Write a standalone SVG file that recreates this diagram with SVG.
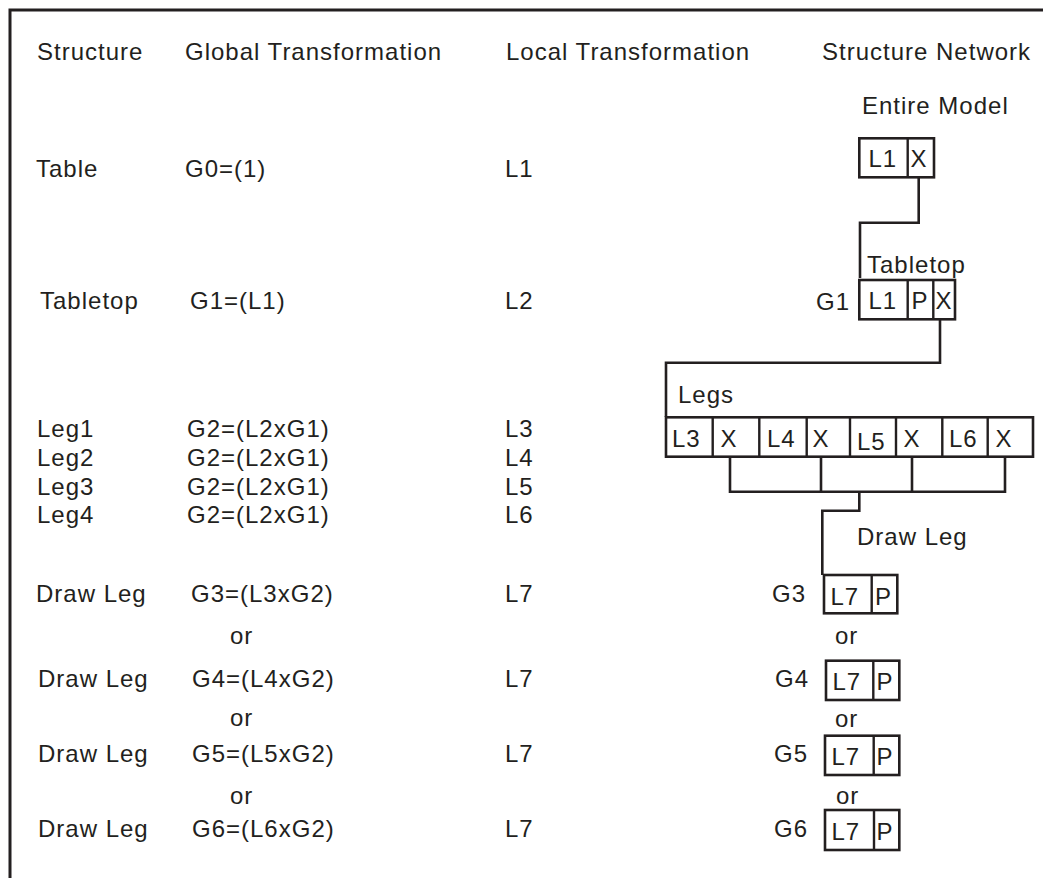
<svg xmlns="http://www.w3.org/2000/svg" width="1043" height="892" viewBox="0 0 1043 892">
<style>
text{font-family:"Liberation Sans",Arial,Helvetica,sans-serif;font-size:24px;fill:#231f20;letter-spacing:1px}
.box{fill:#fff;stroke:#231f20;stroke-width:2.6}
.div{stroke:#231f20;stroke-width:2.4;fill:none}
.con{stroke:#231f20;stroke-width:2.6;fill:none}
.frame{stroke:#231f20;stroke-width:3;fill:none}
</style>
<rect width="1043" height="892" fill="#fff"/>
<path class="frame" d="M1043 10 H10 V878"/>

<g id="header">
<text x="37" y="60">Structure</text>
<text x="185" y="60">Global Transformation</text>
<text x="506" y="60">Local Transformation</text>
<text x="822" y="60">Structure Network</text>
</g>

<g id="row-table">
<text x="36" y="177">Table</text>
<text x="185" y="177">G0=(1)</text>
<text x="505" y="177">L1</text>
</g>
<g id="row-tabletop">
<text x="40" y="309">Tabletop</text>
<text x="190" y="309">G1=(L1)</text>
<text x="505" y="309">L2</text>
</g>
<g id="row-legs">
<text x="37" y="437">Leg1</text>
<text x="37" y="466">Leg2</text>
<text x="37" y="495">Leg3</text>
<text x="37" y="523">Leg4</text>
<text x="187" y="437">G2=(L2xG1)</text>
<text x="187" y="466">G2=(L2xG1)</text>
<text x="187" y="495">G2=(L2xG1)</text>
<text x="187" y="523">G2=(L2xG1)</text>
<text x="505" y="437">L3</text>
<text x="505" y="466">L4</text>
<text x="505" y="495">L5</text>
<text x="505" y="523">L6</text>
</g>
<g id="row-drawleg">
<text x="36" y="602">Draw Leg</text>
<text x="191" y="602">G3=(L3xG2)</text>
<text x="505" y="602">L7</text>
<text x="230" y="644">or</text>
<text x="38" y="687">Draw Leg</text>
<text x="192" y="687">G4=(L4xG2)</text>
<text x="505" y="687">L7</text>
<text x="230" y="726">or</text>
<text x="38" y="762">Draw Leg</text>
<text x="192" y="762">G5=(L5xG2)</text>
<text x="505" y="762">L7</text>
<text x="230" y="804">or</text>
<text x="38" y="837">Draw Leg</text>
<text x="192" y="837">G6=(L6xG2)</text>
<text x="505" y="837">L7</text>
</g>

<g id="connectors">
<path class="con" d="M918.7 177.3 V222.7 H860 V278"/>
<path class="con" d="M940 319.3 V362.7 H666 V417"/>
<path class="con" d="M730 457 V491.7 H1005 V457"/>
<path class="con" d="M821 457 V491.7"/>
<path class="con" d="M912 457 V491.7"/>
<path class="con" d="M859.3 491.7 V510.7 H822.3 V575"/>
</g>

<g id="node-entire-model">
<text x="862" y="114">Entire Model</text>
<rect class="box" x="859.3" y="138.3" width="74.7" height="39"/>
<path class="div" d="M907.7 138.3 V177.3"/>
<text x="868.5" y="166.5">L1</text>
<text x="910.5" y="166.5">X</text>
</g>

<g id="node-tabletop">
<text x="867" y="273">Tabletop</text>
<text x="816" y="310">G1</text>
<rect class="box" x="859.3" y="280" width="95.7" height="39.3"/>
<path class="div" d="M907.7 280 V319.3 M933.3 280 V319.3"/>
<text x="868.5" y="308.5">L1</text>
<text x="911.5" y="308.5">P</text>
<text x="935.5" y="308.5">X</text>
</g>

<g id="node-legs">
<text x="678" y="403">Legs</text>
<rect class="box" x="666" y="417.3" width="367" height="39.4"/>
<path class="div" d="M712.7 417.3 V456.7 M759.3 417.3 V456.7 M806.7 417.3 V456.7 M850 417.3 V456.7 M896 417.3 V456.7 M942.3 417.3 V456.7 M987.7 417.3 V456.7"/>
<text x="672" y="447">L3</text>
<text x="720.5" y="447">X</text>
<text x="767" y="447">L4</text>
<text x="812.5" y="447">X</text>
<text x="857" y="450">L5</text>
<text x="903.5" y="447">X</text>
<text x="949" y="447">L6</text>
<text x="995.5" y="447">X</text>
</g>

<g id="node-draw-leg">
<text x="857" y="545">Draw Leg</text>
</g>

<g id="node-g3">
<text x="772" y="602">G3</text>
<rect class="box" x="824" y="575" width="73.3" height="38.3"/>
<path class="div" d="M871.7 575 V613.3"/>
<text x="830.5" y="605">L7</text>
<text x="875" y="605">P</text>
</g>
<text x="835" y="644">or</text>
<g id="node-g4">
<text x="775" y="687">G4</text>
<rect class="box" x="826" y="660.7" width="73.3" height="39.3"/>
<path class="div" d="M873.3 660.7 V700"/>
<text x="832.5" y="690">L7</text>
<text x="876.5" y="690">P</text>
</g>
<text x="835" y="727">or</text>
<g id="node-g5">
<text x="774" y="762">G5</text>
<rect class="box" x="825" y="735.7" width="74.3" height="39.3"/>
<path class="div" d="M873.7 735.7 V775"/>
<text x="831.5" y="765">L7</text>
<text x="876.5" y="765">P</text>
</g>
<text x="836" y="804">or</text>
<g id="node-g6">
<text x="774" y="837">G6</text>
<rect class="box" x="825" y="810" width="74.3" height="40"/>
<path class="div" d="M874 810 V850"/>
<text x="831.5" y="840">L7</text>
<text x="876.5" y="840">P</text>
</g>
</svg>
